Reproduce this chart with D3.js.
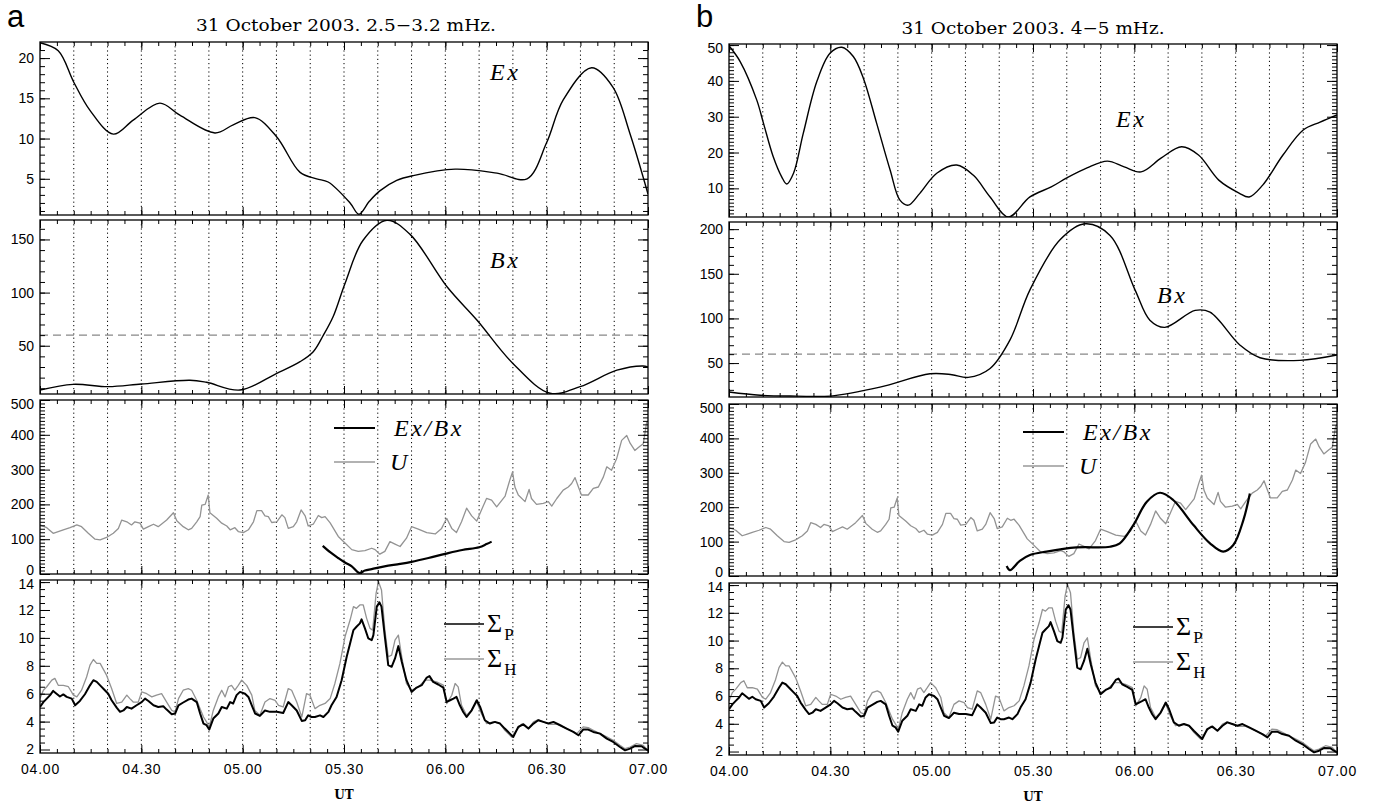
<!DOCTYPE html>
<meta charset="utf-8">
<style>
body { margin: 0; background: #fff; }
.tick text { font-family: "Liberation Sans", Helvetica, sans-serif; font-size: 14px; fill: #000; }
.axis .domain { display: none; }
.axis line { stroke: #000; stroke-width: 1; }
.frame { fill: none; stroke: #000; stroke-width: 1.3; }
.grid line { stroke: #000; stroke-width: 1; stroke-dasharray: 1.2,3; }
.title { font-family: "DejaVu Serif", serif; font-size: 16.5px; }
.plabel { font-family: "Liberation Sans", Helvetica, sans-serif; font-size: 31px; }
.name { font-family: "Liberation Serif", serif; font-style: italic; font-size: 24px; letter-spacing: 2.5px; }
.sig { font-family: "Liberation Serif", serif; font-size: 26px; }
.sub { font-family: "Liberation Serif", serif; font-size: 17px; }
.ut { font-family: "DejaVu Serif", serif; font-size: 12px; font-weight: bold; }
</style>
<body>
<script src="https://d3js.org/d3.v7.min.js"></script>
<script>

var width = 1373,
    height = 807,
    plotW = 608;

// minutes after 04:00 UT, value
var exA = [[0,21.9],[5.4,20.9],[10,17.0],[14.8,13.5],[21.7,10.55],[27.6,12.3],[35.5,14.4],[41.4,12.9],
  [51.8,10.7],[57.2,11.7],[63.6,12.6],[70.1,10.2],[77,5.8],[81.9,5.0],[85.3,4.6],[91.8,2.0],[94.4,0.6],
  [97.5,2.2],[100.6,3.5],[105.6,4.8],[110.5,5.4],[122.9,6.2],[135.3,5.7],[144.2,5.0],[150,9.5],
  [154.9,14.8],[163.3,18.8],[169.6,16.4],[174.6,10.7],[180,3.1]];

var bxA = [[0,8.3],[9.8,13.7],[20.2,11.5],[30,14],[44.4,17.5],[49.3,15.6],[59.2,8.3],[70.1,24],[77,35],
  [80.9,44.4],[83.9,60],[86.8,77.5],[90.3,108.6],[95.6,149],[102.7,168],[109.5,155],[120.5,105.5],
  [129.4,74],[140,33.4],[151,5.3],[159.9,11.5],[170.8,27],[178.5,31],[180,30]];

var exBxA = [[83.7,81],[86,62],[88.3,46],[90.3,33],[92.3,22],[94.5,3],[96.2,10],[98.2,14],[102,22],
  [106.6,29],[110,35],[115,46],[120,58],[125,69],[130,77],[132.2,86],[133.7,93]];

var exB = [[0,49.8],[3.3,45.4],[8.2,34.7],[10.2,28.2],[13.1,18.8],[15.6,13.2],[17.1,11.2],[19.1,14.2],
  [22,25.4],[26,39.8],[29.9,47.7],[33.4,49.4],[36.8,46.8],[39.8,40.7],[43.7,28.2],[47.7,15.1],[50.6,6.7],
  [53.1,5.3],[56.5,8.6],[61.5,14.2],[67.4,16.5],[72.3,13.7],[77.3,7.6],[82.7,2.0],[89.1,7.6],[95.4,10.4],
  [100,12.9],[106,15.7],[112,17.6],[117,16.0],[122,14.6],[128,18.5],[134,21.6],[139,19.3],[145,12.3],
  [151,8.7],[154,7.6],[158,10.9],[164,19.3],[170,26.3],[175,28.5],[180,30.5]];

var bxB = [[0,17.6],[9.2,14],[20,13],[30,13],[44.7,23],[59.5,38],[66,37],[70.8,34],[77.3,44],[83.2,76],
  [89.1,132],[98,188],[105.4,206],[112.8,193],[120.2,132],[124.6,98],[129,90],[138,109],[142.4,107],
  [151.3,70],[157.2,56],[169,53],[180,59]];

var exBxB = [[82.2,29],[83.2,17],[86.1,44],[89.1,61],[94,71],[102.9,83],[112.8,85],[115.7,95],[119.7,148],
  [123.7,216],[127.6,242],[131.5,221],[137.5,148],[142.4,95],[146.3,71],[149.3,90],[152.3,163],[154.2,240]];

var uVel = [[0,141],[2,133],[3.9,117],[5.4,122],[6.9,127],[8.9,133],[10.9,141],[12.3,136],[14.3,117],
  [16.3,100],[17.8,98],[19.7,105],[21.7,117],[23.2,131],[24.2,155],[25.7,150],[27.1,141],[28.1,150],
  [29.6,146],[30.6,129],[32.1,136],[33.6,143],[35,136],[37.5,155],[39.5,176],[40.5,153],[42.4,136],
  [43.9,127],[44.9,131],[46.4,150],[47.4,165],[47.9,198],[48.9,200],[49.8,227],[50.3,176],[52.3,160],
  [53.8,146],[55.3,138],[56.3,127],[57.7,133],[58.7,122],[60.2,119],[61.7,127],[63.2,150],[64.2,182],
  [65.6,182],[66.6,167],[67.6,165],[68.6,148],[70.1,150],[71.6,170],[72.5,162],[73.5,131],[75,136],
  [76,150],[77.3,184],[78.5,167],[79.4,138],[80.9,143],[82.4,168],[83.4,162],[84.4,165],[85.9,147],
  [88.3,108],[90.3,89],[92.3,70],[94.2,65],[96.2,67],[98.2,74],[99.2,70],[100.6,57],[102.1,65],
  [103.6,93],[105.1,86],[106.6,79],[108.5,103],[110,136],[112,129],[114.5,119],[117,115],[118.9,131],
  [120.4,160],[121.9,131],[123.3,119],[124.8,150],[126.3,189],[127.8,167],[129.3,152],[130.7,184],
  [132.2,217],[133.7,212],[135.2,193],[137.7,224],[139.1,270],[139.9,293],[140.6,250],[141.6,227],
  [143.6,208],[144.8,243],[145.5,217],[147,200],[149,203],[150.5,208],[151.5,195],[153,217],[154.9,241],
  [156.4,250],[157.4,260],[158.4,277],[159.4,250],[160.3,227],[162.3,227],[163.8,246],[165.3,250],
  [166.8,279],[167.8,308],[169.2,298],[170.7,331],[172.2,384],[173.7,398],[174.7,376],[176.1,355],
  [177.6,367],[178.6,374],[179.6,436],[180,440]];

var sigP = [[0,5.05],[1,5.4],[2,5.65],[3,5.9],[3.9,6.2],[4.9,6.0],[5.9,5.8],[6.9,5.95],[7.9,5.77],[9.4,5.65],
  [10.4,5.17],[11.8,5.48],[13.3,5.96],[14.8,6.6],[15.8,6.97],[16.8,6.85],[17.8,6.6],[19.2,6.25],[20.2,6.0],
  [21.2,5.53],[22.7,5.0],[23.7,4.7],[24.7,4.8],[25.7,5.05],[27.1,4.93],[28.6,5.17],[30.1,5.4],[31.1,5.65],
  [32.1,5.48],[33.6,5.17],[35,5.05],[36.5,5.1],[37.5,4.86],[39,4.53],[40,4.58],[41,5.17],[42.4,5.37],
  [43.9,5.58],[44.9,5.65],[46.4,5.4],[47.4,4.58],[48.4,3.86],[49.3,3.74],[50.1,3.43],[51.3,4.22],
  [52.8,4.58],[53.8,5.05],[55.3,4.93],[56.3,5.4],[57.2,5.3],[58.2,5.9],[59.2,6.13],[60.7,6.0],[61.7,5.77],
  [62.7,5.17],[63.7,4.58],[65.1,4.41],[66.6,4.8],[68.1,4.7],[70.1,4.7],[72,4.62],[73.5,5.4],[74.5,5.17],
  [76,4.8],[77.5,4.05],[78.5,4.1],[79.4,4.45],[80.4,4.33],[81.4,4.33],[82.9,4.45],[83.9,4.33],[85.4,4.7],
  [86.3,5.17],[87.8,5.77],[89.3,6.97],[90.8,8.65],[91.8,9.6],[92.8,10.56],[93.7,10.8],[94.7,11.04],
  [95.2,11.33],[96.2,10.68],[97.2,9.96],[98.2,9.84],[98.7,10.2],[99.7,12.24],[100.5,12.55],[101.1,12.24],
  [102.1,10.08],[103.1,8.05],[104.1,7.93],[105.1,8.53],[106.1,9.41],[107.1,8.29],[108.5,6.97],[110,6.13],
  [111.5,6.44],[113,6.61],[114.5,7.16],[115.3,7.26],[116.4,6.85],[117.9,6.66],[119.4,6.44],[120.4,5.41],
  [121.4,5.53],[122.4,5.65],[123.3,5.77],[124.3,5.17],[125.3,4.69],[126.3,4.33],[127.8,4.81],[129.3,5.53],
  [130.3,5.05],[131.7,4.1],[133.2,3.86],[134.7,3.98],[136.2,3.86],[137.6,3.5],[139.1,3.14],[140.1,2.9],
  [141.6,3.62],[143.1,3.81],[144.6,3.5],[146.1,3.86],[147.5,4.1],[149,3.98],[150.5,3.86],[152,3.98],
  [154,3.74],[155.9,3.5],[157.9,3.26],[159.4,3.02],[160.8,3.43],[162.3,3.43],[163.8,3.26],[165.8,3.14],
  [167.8,2.78],[169.7,2.54],[171.7,2.18],[173.2,1.94],[174.7,2.06],[176.1,2.25],[178.1,2.23],[179.1,2.06],
  [180,1.94]];

var sigH = [[0,5.65],[1,6.25],[2,6.5],[3.5,6.97],[4.4,7.1],[5.4,6.6],[6.9,6.6],[8.4,6.5],[9.9,5.9],
  [10.9,5.77],[12.3,6.25],[13.8,7.2],[14.8,8.05],[15.8,8.45],[16.8,8.17],[17.8,8.17],[19.7,7.33],
  [21.2,6.37],[22.7,5.3],[24.2,5.4],[25.7,5.9],[26.6,5.65],[27.6,5.4],[29.1,5.4],[30.1,6.13],[31.6,6.0],
  [33.1,5.77],[34.5,5.9],[36,6.0],[37.5,5.4],[39,4.8],[40,4.7],[41,5.65],[42.4,6.25],[43.9,6.37],
  [44.9,6.25],[46.4,5.53],[47.4,4.93],[48.4,4.33],[49.3,3.98],[50.1,3.6],[51.3,4.8],[52.8,5.77],
  [53.8,6.25],[54.8,5.77],[55.8,6.5],[56.7,6.6],[57.7,6.25],[58.7,6.6],[59.7,6.97],[61.2,6.6],[62.7,5.9],
  [63.6,4.8],[65.1,4.45],[66.6,5.4],[68.1,5.65],[69.6,5.53],[70.6,5.17],[72,5.05],[73.5,6.37],[74.5,6.25],
  [76,5.4],[77.5,4.33],[78.9,6.0],[79.9,5.9],[81.4,4.93],[82.9,5.17],[84.4,5.3],[85.9,5.65],[87.3,6.73],
  [88.8,8.17],[90.3,10.08],[91.8,11.28],[92.8,12.24],[93.7,12.12],[94.7,12.36],[95.7,12.36],[96.7,11.4],
  [97.7,10.68],[98.5,10.56],[99.5,13.2],[100.2,14.04],[101.1,13.44],[102.1,10.56],[103.1,8.65],
  [104.1,8.77],[105.1,9.84],[106.1,10.2],[107.1,8.65],[108.5,6.73],[110,6.25],[112,6.49],[114,6.97],
  [115.4,6.97],[117.4,6.85],[119.4,6.61],[120.4,5.29],[121.9,5.89],[122.9,6.73],[123.8,6.49],[124.8,5.17],
  [126.3,4.46],[127.8,4.81],[129.3,5.41],[130.7,4.57],[132.2,3.86],[134.2,3.98],[136.2,3.86],[137.6,3.38],
  [139.6,2.9],[141.1,3.38],[142.6,3.81],[144.6,3.5],[146.1,3.98],[147.5,4.14],[149,3.98],[151,3.81],
  [153,3.81],[154.9,3.62],[156.9,3.38],[158.9,3.14],[160.8,3.62],[162.3,3.57],[163.8,3.38],[165.8,3.14],
  [167.8,2.9],[169.7,2.66],[171.7,2.3],[173.2,2.06],[174.7,2.18],[176.6,2.42],[178.6,2.3],[180,1.94]];

var titleA = "31 October 2003. 2.5\u22123.2 mHz.",
    titleB = "31 October 2003. 4\u22125 mHz.";

var start = new Date(2003, 9, 31, 4, 0);
function at(m) { return new Date(+start + m * 60000); }

var x = d3.scaleTime().domain([at(0), at(180)]).range([0, plotW]);

var svg = d3.select("body").append("svg")
    .attr("width", width)
    .attr("height", height);

var clipId = 0;

function drawPlot(left, top, h, spec, lastRow) {
  var g = svg.append("g").attr("transform", "translate(" + left + "," + top + ")");
  var y = d3.scaleLinear().domain(spec.domain).range([h, 0]);
  var id = "clip" + (clipId++);

  g.append("clipPath").attr("id", id)
    .append("rect").attr("width", plotW).attr("height", h);

  g.append("g").attr("class", "grid")
    .selectAll("line")
    .data(d3.range(10, 180, 10).map(at))
  .enter().append("line")
    .attr("x1", x).attr("x2", x)
    .attr("y1", 0).attr("y2", h);

  if (spec.dashed != null) {
    g.append("line")
      .attr("x1", 0).attr("x2", plotW)
      .attr("y1", y(spec.dashed)).attr("y2", y(spec.dashed))
      .attr("stroke", "#888").attr("stroke-width", 1.4)
      .attr("stroke-dasharray", "8,5");
  }

  var plot = g.append("g").attr("clip-path", "url(#" + id + ")");
  spec.series.forEach(function(s) {
    var line = d3.line()
      .x(function(d) { return x(at(d[0])); })
      .y(function(d) { return y(d[1]); })
      .curve(s.smooth ? d3.curveCatmullRom.alpha(0.5) : d3.curveLinear);
    plot.append("path")
      .datum(s.data)
      .attr("d", line)
      .attr("fill", "none")
      .attr("stroke", s.color)
      .attr("stroke-width", s.width)
      .attr("stroke-linejoin", "round");
  });

  // y axes, ticks pointing inward
  var yl = g.append("g").attr("class", "axis")
    .call(d3.axisLeft(y).tickValues(spec.major).tickSizeInner(-10).tickSizeOuter(0).tickPadding(6));
  yl.selectAll("text").attr("y", function(d) {
    var p = y(d), c = Math.max(4, Math.min(h - 4, p));
    return c - p;
  });
  g.append("g").attr("class", "axis")
    .call(d3.axisLeft(y).tickValues(spec.minor).tickSizeInner(-5).tickSizeOuter(0).tickFormat(""));
  g.append("g").attr("class", "axis").attr("transform", "translate(" + plotW + ",0)")
    .call(d3.axisRight(y).tickValues(spec.major).tickSizeInner(-10).tickSizeOuter(0).tickFormat(""));
  g.append("g").attr("class", "axis").attr("transform", "translate(" + plotW + ",0)")
    .call(d3.axisRight(y).tickValues(spec.minor).tickSizeInner(-5).tickSizeOuter(0).tickFormat(""));

  // x axes top and bottom
  g.append("g").attr("class", "axis")
    .call(d3.axisTop(x).ticks(d3.timeMinute.every(5)).tickSizeInner(-4).tickSizeOuter(0).tickFormat(""));
  g.append("g").attr("class", "axis").attr("transform", "translate(0," + h + ")")
    .call(d3.axisBottom(x).ticks(d3.timeMinute.every(5)).tickSizeInner(-4).tickSizeOuter(0).tickFormat(""));
  g.append("g").attr("class", "axis")
    .call(d3.axisTop(x).ticks(d3.timeMinute.every(30)).tickSizeInner(-8).tickSizeOuter(0).tickFormat(""));
  var xb = g.append("g").attr("class", "axis").attr("transform", "translate(0," + h + ")")
    .call(d3.axisBottom(x).ticks(d3.timeMinute.every(30)).tickSizeInner(-8).tickSizeOuter(0)
      .tickPadding(11).tickFormat(lastRow ? d3.timeFormat("%H.%M") : ""));
  xb.selectAll("text").attr("letter-spacing", "0.8px");

  g.append("rect").attr("class", "frame").attr("width", plotW).attr("height", h);

  if (spec.name) {
    g.append("text").attr("class", "name")
      .attr("x", spec.name[1]).attr("y", spec.name[2])
      .text(spec.name[0]);
  }

  if (spec.legend) {
    spec.legend.forEach(function(l) {
      g.append("line")
        .attr("x1", l.x1).attr("x2", l.x2)
        .attr("y1", l.y).attr("y2", l.y)
        .attr("stroke", l.color).attr("stroke-width", l.width);
      var t = g.append("text").attr("x", l.tx).attr("y", l.y + 8);
      if (l.sub) {
        t.attr("class", "sig").text("\u03a3");
        t.append("tspan").attr("class", "sub").attr("dx", 2).attr("dy", 8).text(l.sub);
      } else {
        t.attr("class", "name").text(l.label);
      }
    });
  }
  return g;
}

function ticksBy(a, b, s) { return d3.range(a, b + s / 2, s); }

var legend3 = [
  {label: "Ex/Bx", color: "#000", width: 2, x1: 294, x2: 335, y: 28, tx: 354},
  {label: "U", color: "#999", width: 1.3, x1: 294, x2: 335, y: 62, tx: 350}
];
var legend4 = [
  {sub: "P", color: "#000", width: 1.6, x1: 404, x2: 444, y: 44, tx: 447},
  {sub: "H", color: "#999", width: 1.3, x1: 404, x2: 444, y: 79, tx: 447}
];

function sigmaSpec() {
  return {
    domain: [1.75, 14.15], major: ticksBy(2, 14, 2), minor: ticksBy(2.5, 14, 0.5),
    series: [
      {data: sigH, color: "#939393", width: 1.3},
      {data: sigP, color: "#000", width: 2}
    ],
    legend: legend4
  };
}

function uSpec(ratio) {
  return {
    domain: [0, 500], major: ticksBy(0, 500, 100), minor: ticksBy(10, 490, 10),
    series: [
      {data: uVel, color: "#939393", width: 1.3},
      {data: ratio, color: "#000", width: 2.2, smooth: true}
    ],
    legend: legend3
  };
}

var panels = [
  {
    label: "a", left: 40, title: titleA, titleX: 346, titleY: 31, titleW: 300,
    rows: [[42, 215], [220, 394], [400, 574], [580, 753]],
    specs: [
      {domain: [0.5, 22], major: [5, 10, 15, 20], minor: ticksBy(1, 21, 1),
       series: [{data: exA, color: "#000", width: 1.4, smooth: true}], name: ["Ex", 450, 38]},
      {domain: [4.6, 168.3], major: [50, 100, 150], minor: ticksBy(10, 160, 10), dashed: 60,
       series: [{data: bxA, color: "#000", width: 1.4, smooth: true}], name: ["Bx", 450, 48]},
      uSpec(exBxA),
      sigmaSpec()
    ]
  },
  {
    label: "b", left: 729, title: titleB, titleX: 1033, titleY: 34, titleW: 263,
    rows: [[44, 217], [222, 397], [404, 576], [583, 755]],
    specs: [
      {domain: [2, 50.3], major: [10, 20, 30, 40, 50], minor: ticksBy(3, 50, 1),
       series: [{data: exB, color: "#000", width: 1.4, smooth: true}], name: ["Ex", 387, 83]},
      {domain: [12, 208], major: [50, 100, 150, 200], minor: ticksBy(20, 200, 10), dashed: 60,
       series: [{data: bxB, color: "#000", width: 1.4, smooth: true}], name: ["Bx", 428, 81]},
      uSpec(exBxB),
      sigmaSpec()
    ]
  }
];

panels.forEach(function(p) {
  p.specs.forEach(function(spec, i) {
    var r = p.rows[i];
    drawPlot(p.left, r[0], r[1] - r[0], spec, i === 3);
  });

  svg.append("text").attr("class", "plabel")
    .attr("x", p.left - 33).attr("y", 27)
    .text(p.label);

  svg.append("text").attr("class", "title")
    .attr("x", p.titleX).attr("y", p.titleY)
    .attr("text-anchor", "middle")
    .attr("textLength", p.titleW).attr("lengthAdjust", "spacingAndGlyphs")
    .text(p.title);

  svg.append("text").attr("class", "ut")
    .attr("x", p.left + plotW / 2).attr("y", p.rows[3][1] + 46)
    .attr("text-anchor", "middle")
    .text("UT");
});

</script>
